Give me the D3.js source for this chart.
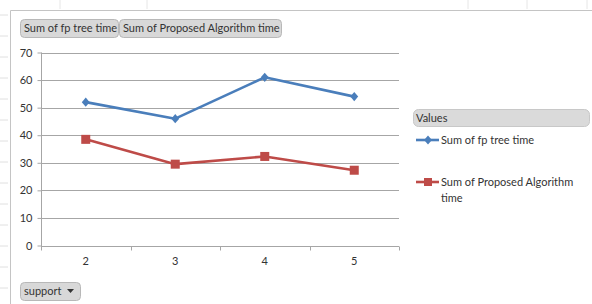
<!DOCTYPE html>
<html><head><meta charset="utf-8">
<script src="https://cdn.jsdelivr.net/npm/d3@7"></script>
<style>
body{margin:0;background:#fff;}
svg{display:block;font-family:Lato,"Open Sans",sans-serif;}
</style></head><body>
<svg id="c" width="592" height="304"></svg>
<script>
const categories = ["2", "3", "4", "5"];
const fpTree = [52, 46, 61, 54];
const proposed = [38.5, 29.5, 32.3, 27.3];
const yTicks = [0, 10, 20, 30, 40, 50, 60, 70];
const seriesNames = ["Sum of fp tree time", "Sum of Proposed Algorithm time"];
const fieldButtons = ["Sum of fp tree time", "Sum of Proposed Algorithm time"];
const axisField = "support";
const legendTitle = "Values";

const svg = d3.select("#c");
const gridCol = "#a6a6a6";
const blue = "#4a7ebb", red = "#be4b48";

// spreadsheet background frame
const bg = svg.append("g");
[15, 36, 57, 78, 99, 120, 141, 162, 183, 204, 225, 246, 267, 288].forEach(y =>
  bg.append("line").attr("x1", 0).attr("x2", 8).attr("y1", y).attr("y2", y).attr("stroke", "#e0e0e0"));
[60, 147, 468, 527, 587].forEach(x =>
  bg.append("line").attr("x1", x).attr("x2", x).attr("y1", 0).attr("y2", 9).attr("stroke", "#e6e6e6"));
bg.append("path").attr("d", "M10.5,304V10.5H592").attr("fill", "none").attr("stroke", "#c4c4c4").attr("stroke-width", 1);

const x = d3.scaleBand().domain(categories).range([41, 399]);
const y = d3.scaleLinear().domain([0, 70]).range([245.5, 52.5]);

// gridlines
svg.append("g").selectAll("line").data(yTicks.filter(d => d > 0)).join("line")
  .attr("x1", 41).attr("x2", 399)
  .attr("y1", d => Math.round(y(d)) + 0.5).attr("y2", d => Math.round(y(d)) + 0.5)
  .attr("stroke", gridCol).attr("stroke-width", 1);

// y axis
const ya = svg.append("g").attr("transform", "translate(41.5,0)")
  .call(d3.axisLeft(y).tickValues(yTicks).tickSize(4).tickPadding(5).tickFormat(d3.format("d")));
ya.select(".domain").attr("stroke", gridCol).attr("d", `M0,${y(70)}V${y(0) + 3}`);
ya.selectAll(".tick line").attr("stroke", gridCol);
ya.selectAll(".tick text").attr("fill", "#333").style("font-size", "11px").style("font-family", "Lato,sans-serif");

// x axis
const xa = svg.append("g").attr("transform", `translate(0,${Math.round(y(0)) + 0.5})`)
  .call(d3.axisBottom(x).tickSize(0).tickPadding(11));
xa.select(".domain").attr("stroke", gridCol).attr("d", "M41,0H399");
xa.selectAll(".tick text").attr("fill", "#333").style("font-size", "11px").style("font-family", "Lato,sans-serif");
const bounds = categories.map(c => x(c)).concat([x(categories[categories.length - 1]) + x.bandwidth()]);
xa.append("g").selectAll("line").data(bounds).join("line")
  .attr("x1", d => Math.round(d) + 0.5).attr("x2", d => Math.round(d) + 0.5)
  .attr("y1", 0).attr("y2", 4).attr("stroke", gridCol);

const cx = c => x(c) + x.bandwidth() / 2;
const line = d3.line().x((d, i) => cx(categories[i])).y(d => y(d));

svg.append("path").datum(fpTree).attr("d", line).attr("fill", "none")
  .attr("stroke", blue).attr("stroke-width", 2.6).attr("stroke-linejoin", "round");
svg.append("path").datum(proposed).attr("d", line).attr("fill", "none")
  .attr("stroke", red).attr("stroke-width", 2.6).attr("stroke-linejoin", "round");

const diamond = d3.symbol().type(d3.symbolDiamond2).size(44);
svg.append("g").selectAll("path").data(fpTree).join("path")
  .attr("d", diamond).attr("transform", (d, i) => `translate(${cx(categories[i])},${y(d)}) scale(0.95,1.1)`)
  .attr("fill", blue);
svg.append("g").selectAll("rect").data(proposed).join("rect")
  .attr("x", (d, i) => cx(categories[i]) - 4.5).attr("y", d => y(d) - 4.5)
  .attr("width", 9).attr("height", 9).attr("fill", red);

// field buttons
function button(x0, y0, w, h, label, arrow) {
  const g = svg.append("g");
  g.append("rect").attr("x", x0 + 0.5).attr("y", y0 + 0.5).attr("width", w).attr("height", h)
    .attr("rx", 4).attr("fill", "#d8d8d8").attr("stroke", "#b8b8b8");
  g.append("text").attr("x", x0 + 4).attr("y", y0 + h / 2 + 4).text(label)
    .attr("fill", "#333").style("font-size", "11px");
  if (arrow) {
    g.append("path").attr("d", `M${x0 + w - 13},${y0 + 7}h7l-3.5,4z`).attr("fill", "#333");
  }
}
button(20, 19, 98, 18, fieldButtons[0]);
button(119, 19, 162, 18, fieldButtons[1]);
button(20, 282, 60, 18, axisField, true);

// legend
const lg = svg.append("g");
lg.append("rect").attr("x", 413.5).attr("y", 109.5).attr("width", 176).attr("height", 17)
  .attr("rx", 5).attr("fill", "#dadada").attr("stroke", "#c8c8c8");
lg.append("text").attr("x", 416).attr("y", 122).text(legendTitle).attr("fill", "#333").style("font-size", "11px");

lg.append("line").attr("x1", 416).attr("x2", 439).attr("y1", 140).attr("y2", 140).attr("stroke", blue).attr("stroke-width", 2.6);
lg.append("path").attr("d", diamond).attr("transform", "translate(428,140) scale(0.95,1.1)").attr("fill", blue);
lg.append("text").attr("x", 441).attr("y", 144).text(seriesNames[0]).attr("fill", "#333").style("font-size", "11px");

lg.append("line").attr("x1", 416).attr("x2", 439).attr("y1", 182).attr("y2", 182).attr("stroke", red).attr("stroke-width", 2.6);
lg.append("rect").attr("x", 424).attr("y", 178).attr("width", 8).attr("height", 8).attr("fill", red);
const t2 = lg.append("text").attr("x", 441).attr("y", 186).attr("fill", "#333").style("font-size", "11px");
const words = seriesNames[1].split(" ");
t2.append("tspan").attr("x", 441).text(words.slice(0, -1).join(" "));
t2.append("tspan").attr("x", 441).attr("dy", 16).text(words[words.length - 1]);
</script>
</body></html>
